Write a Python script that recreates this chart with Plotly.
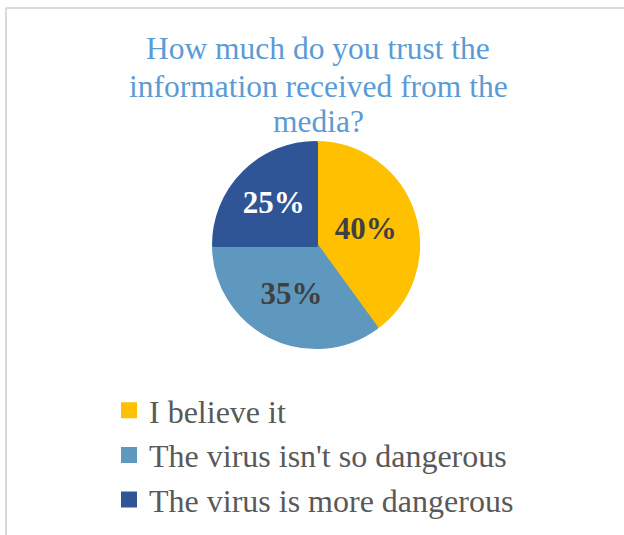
import plotly.graph_objects as go

title_lines = ["How much do you trust the", "information received from the", "media?"]
categories = ["I believe it", "The virus isn't so dangerous", "The virus is more dangerous"]
values = [40, 35, 25]
colors = ["#FFC000", "#5F98BF", "#2F5597"]
label_colors = ["#404040", "#404040", "#FFFFFF"]

W, H = 624, 535
cx, cy, r = 316, 245, 102

fig = go.Figure(go.Pie(
    labels=categories,
    values=values,
    sort=False,
    direction="clockwise",
    rotation=0,
    marker=dict(colors=colors, line=dict(color=colors, width=4)),
    texttemplate="%{percent:.0%}",
    textposition="inside",
    insidetextorientation="horizontal",
    textfont=dict(family="Liberation Serif", size=31, color=label_colors, weight="bold"),
    hoverinfo="label+percent",
    domain=dict(x=[(cx - r) / W, (cx + r) / W], y=[1 - (cy + r) / H, 1 - (cy - r) / H]),
))

title_y = [49, 86, 121]
annotations = []
for line, yy in zip(title_lines, title_y):
    annotations.append(dict(
        text=line, x=318 / W, y=1 - yy / H, xref="paper", yref="paper",
        xanchor="center", yanchor="middle", showarrow=False,
        font=dict(family="Liberation Serif", size=31.5, color="#5B9BD5"),
    ))

fig.update_layout(
    width=W, height=H,
    margin=dict(l=0, r=0, t=0, b=0),
    paper_bgcolor="white",
    plot_bgcolor="white",
    annotations=annotations,
    showlegend=True,
    legend=dict(
        x=109 / W, y=1 - 383 / H, xanchor="left", yanchor="top",
        font=dict(family="Liberation Serif", size=32, color="#595959"),
        bgcolor="rgba(0,0,0,0)", tracegroupgap=0, itemclick=False,
    ),
    shapes=[
        dict(type="line", xref="paper", yref="paper", x0=6 / W, x1=6 / W, y0=0, y1=1 - 8 / H,
             line=dict(color="#D9D9D9", width=2)),
        dict(type="line", xref="paper", yref="paper", x0=6 / W, x1=1, y0=1 - 8 / H, y1=1 - 8 / H,
             line=dict(color="#D9D9D9", width=2)),
    ],
)

fig.write_html(
    "out.html",
    config={"displayModeBar": False},
    post_script="document.body.style.margin='0px';document.body.style.overflow='hidden';",
)
